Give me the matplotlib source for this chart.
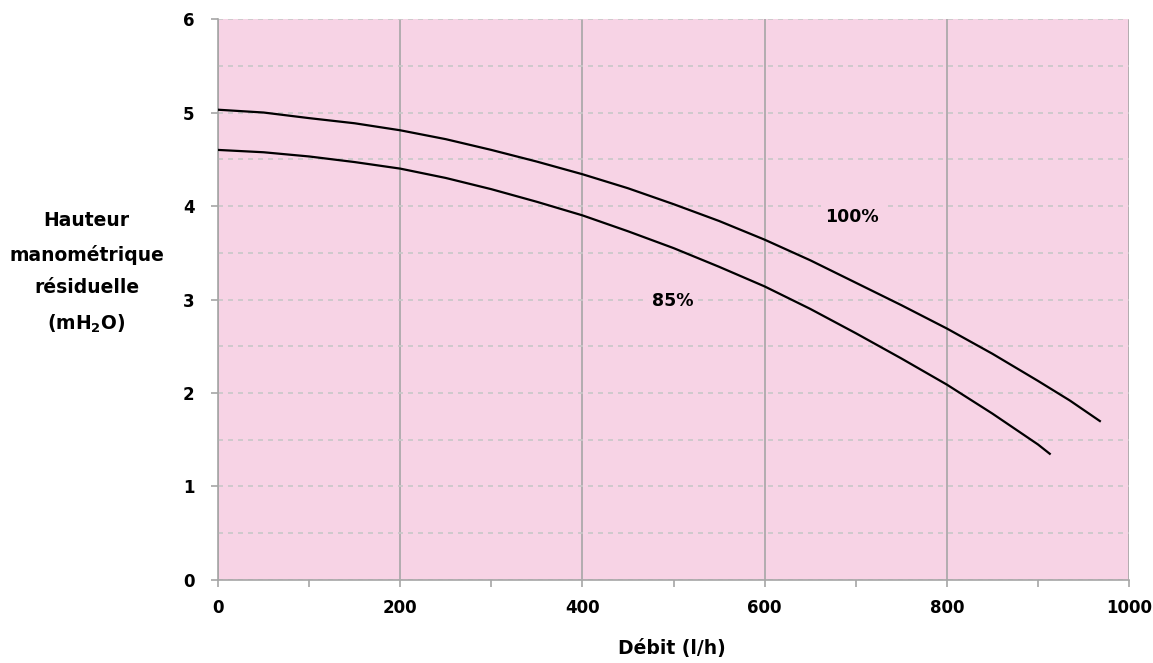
import matplotlib.pyplot as plt
from matplotlib.ticker import MultipleLocator

debit_100 = [0, 50, 100, 150, 200, 250, 300, 350, 400, 450, 500, 550, 600,
             650, 700, 750, 800, 850, 900, 935, 968]
hauteur_100 = [5.03, 5.00, 4.94, 4.885, 4.81, 4.715, 4.60, 4.475, 4.34, 4.19, 4.02, 3.84, 3.64,
               3.42, 3.18, 2.94, 2.69, 2.42, 2.13, 1.92, 1.70]
debit_85 = [0, 50, 100, 150, 200, 250, 300, 350, 400, 450, 500, 550, 600,
            650, 700, 750, 800, 850, 900, 913]
hauteur_85 = [4.60, 4.575, 4.53, 4.47, 4.40, 4.30, 4.18, 4.045, 3.90, 3.73, 3.55, 3.35, 3.14,
              2.90, 2.64, 2.37, 2.09, 1.78, 1.45, 1.35]

plt.rcParams['font.family'] = ['DejaVu Sans']
plt.rcParams['font.weight'] = 'bold'

fig = plt.figure(figsize=(11.53, 6.63), dpi=100)
ax = fig.add_axes([0.1891, 0.1252, 0.7901, 0.8461])
ax.set_facecolor('#F7D3E5')

ax.plot(debit_100, hauteur_100, color='black', lw=1.6, zorder=3)
ax.plot(debit_85, hauteur_85, color='black', lw=1.6, zorder=3)

ax.set_xlim(0, 1000)
ax.set_ylim(0, 6)
ax.xaxis.set_major_locator(MultipleLocator(200))
ax.xaxis.set_minor_locator(MultipleLocator(100))
ax.yaxis.set_major_locator(MultipleLocator(1))
ax.yaxis.set_minor_locator(MultipleLocator(0.5))

ax.grid(axis='x', which='major', color='#A6A6A6', lw=1.2, zorder=1)
ax.grid(axis='y', which='both', color='#C8C8C8', lw=1.2, ls=(0, (3, 3)), zorder=1)
ax.set_axisbelow(True)

for s in ['top', 'right']:
    ax.spines[s].set_visible(False)
for s in ['left', 'bottom']:
    ax.spines[s].set_color('#A6A6A6')
    ax.spines[s].set_linewidth(1.2)

ax.tick_params(which='both', colors='#A6A6A6', length=5, width=1.2)
ax.tick_params(axis='y', which='minor', length=0)
ax.tick_params(labelcolor='black', labelsize=12)
ax.tick_params(axis='x', pad=9)
ax.tick_params(axis='y', pad=12)

box = dict(facecolor='#F7D3E5', edgecolor='none', pad=3)
ax.text(696, 3.88, '100%', fontsize=12.5, fontweight='bold', ha='center', va='center', bbox=box, zorder=4)
ax.text(499, 2.98, '85%', fontsize=12.5, fontweight='bold', ha='center', va='center', bbox=box, zorder=4)

fig.text(0.583, 0.022, 'Débit (l/h)', fontsize=13.5, fontweight='bold', ha='center', va='center')
fig.text(0.075, 0.588, 'Hauteur\nmanométrique\nrésiduelle\n(mH$_\\mathbf{2}$O)', fontsize=13.5,
         fontweight='bold', ha='center', va='center', linespacing=1.9)

fig.savefig('out.png', dpi=100)
